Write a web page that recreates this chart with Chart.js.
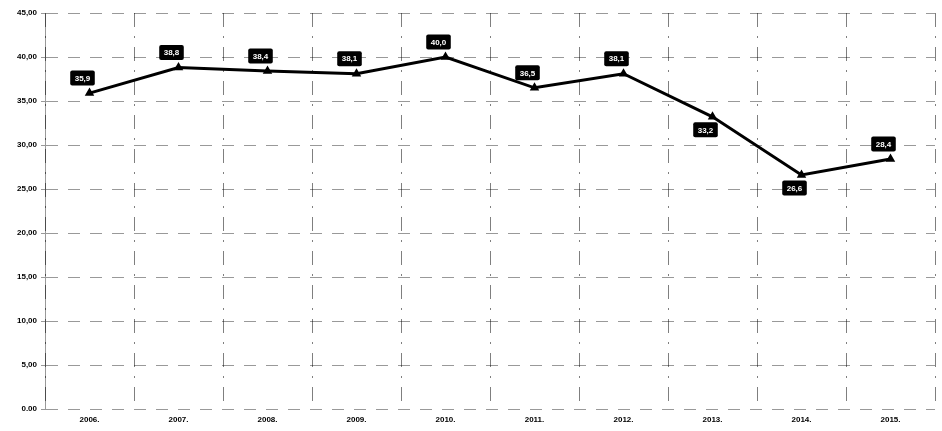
<!DOCTYPE html>
<html>
<head>
<meta charset="utf-8">
<script src="https://cdn.jsdelivr.net/npm/chart.js@4"></script>
<style>
    html, body { margin: 0; padding: 0; background: #fff; overflow: hidden; }
    canvas { display: block; }
</style>
</head>
<body>
<canvas id="lineChart" width="942" height="431"></canvas>
<script>
const years = ['2006.', '2007.', '2008.', '2009.', '2010.', '2011.', '2012.', '2013.', '2014.', '2015.']
const values = [35.9, 38.8, 38.4, 38.1, 40.0, 36.5, 38.1, 33.2, 26.6, 28.4]
const valueLabels = ['35,9', '38,8', '38,4', '38,1', '40,0', '36,5', '38,1', '33,2', '26,6', '28,4']
const yTickLabels = ['0.00', '5,00', '10,00', '15,00', '20,00', '25,00', '30,00', '35,00', '40,00', '45,00']

// where each value box sits relative to its point
const labelSide = ['up', 'up', 'up', 'up', 'up', 'up', 'up', 'down', 'down', 'up']

const FONT = '"Liberation Sans", Arial, sans-serif'

const valueBoxes = {
    id: 'valueBoxes',
    afterDatasetsDraw(chart) {
        const ctx = chart.ctx
        const meta = chart.getDatasetMeta(0)
        ctx.save()
        ctx.font = 'bold 8px ' + FONT
        ctx.textAlign = 'center'
        ctx.textBaseline = 'middle'
        meta.data.forEach((point, i) => {
            const text = valueLabels[i]
            const w = ctx.measureText(text).width + 9
            const h = 15
            const cx = point.x - 7
            const cy = labelSide[i] === 'up' ? point.y - 15 : point.y + 13
            ctx.fillStyle = '#000'
            ctx.beginPath()
            ctx.roundRect(cx - w / 2, cy - h / 2, w, h, 2)
            ctx.fill()
            ctx.fillStyle = '#fff'
            ctx.fillText(text, cx, cy + 0.5)
        })
        ctx.restore()
    }
}

new Chart(document.getElementById('lineChart'), {
    type: 'line',
    data: {
        labels: years,
        datasets: [{
            data: values,
            borderColor: '#000',
            backgroundColor: '#000',
            borderWidth: 3,
            pointStyle: 'triangle',
            pointRadius: 2.5,
            tension: 0
        }]
    },
    options: {
        responsive: false,
        animation: false,
        layout: { padding: { top: 13, right: 0, left: 0, bottom: 0 } },
        plugins: {
            legend: { display: false },
            tooltip: { enabled: false }
        },
        scales: {
            x: {
                offset: true,
                grid: {
                    offset: true,
                    color: 'rgba(0,0,0,0.5)',
                    drawTicks: false
                },
                border: { display: false, dash: [14, 9, 2, 9] },
                ticks: {
                    color: '#000',
                    font: { family: FONT, size: 8, weight: 'bold' },
                    padding: 6,
                    maxRotation: 0
                },
                afterFit(scale) { scale.height = 22 }
            },
            y: {
                min: 0,
                max: 45,
                grid: {
                    color: 'rgba(0,0,0,0.4)',
                    tickLength: 4
                },
                border: { color: 'rgba(0,0,0,0.4)', dash: [12, 10] },
                ticks: {
                    stepSize: 5,
                    color: '#000',
                    padding: 4,
                    font: { family: FONT, size: 8, weight: 'bold' },
                    callback: (value) => yTickLabels[Math.round(value / 5)]
                },
                afterFit(scale) { scale.width = 45 }
            }
        }
    },
    plugins: [valueBoxes]
})
</script>
</body>
</html>
